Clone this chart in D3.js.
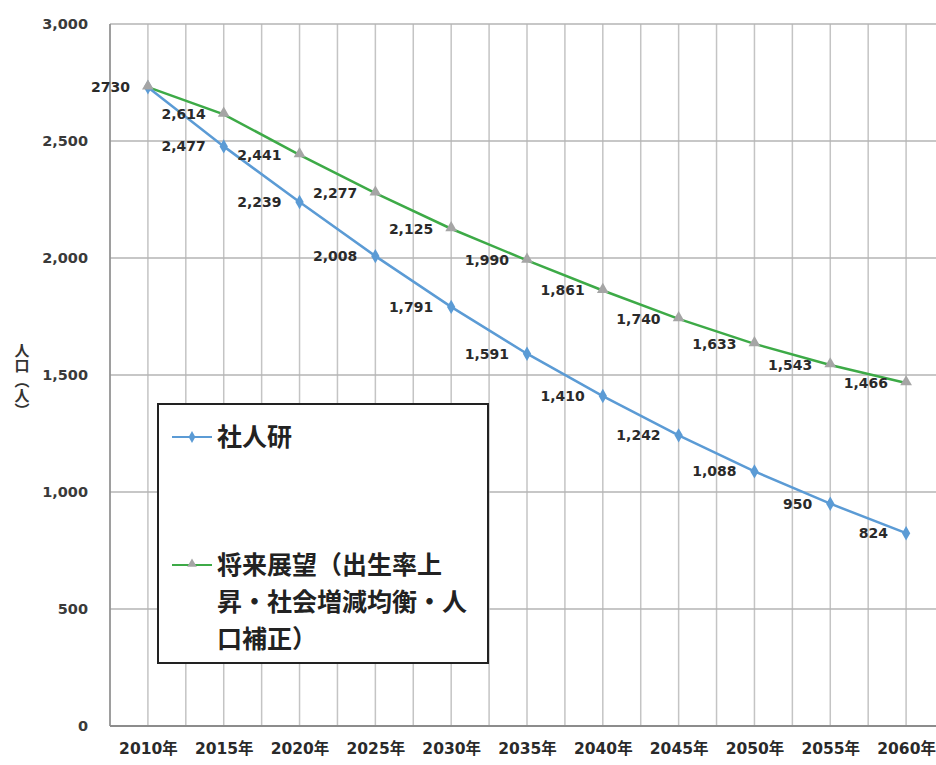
<!DOCTYPE html>
<html>
<head>
<meta charset="utf-8">
<script src="https://cdn.jsdelivr.net/npm/d3@7"></script>
<style>
  body { margin: 0; background: #fff; }
  svg { display: block; font-family: "Noto Sans CJK JP", "Noto Sans", sans-serif; }
</style>
</head>
<body>
<div id="chart"></div>
<script>
// データ
var years = ["2010年", "2015年", "2020年", "2025年", "2030年", "2035年", "2040年", "2045年", "2050年", "2055年", "2060年"];
var shajinken = [2730, 2477, 2239, 2008, 1791, 1591, 1410, 1242, 1088, 950, 824];
var shoraiTenbo = [2730, 2614, 2441, 2277, 2125, 1990, 1861, 1740, 1633, 1543, 1466];
var yTicks = [0, 500, 1000, 1500, 2000, 2500, 3000];

var width = 936, height = 765;
var blue = "#5b9bd5", green = "#3daa47", gray = "#a5a5a5";
var numFont = "'DejaVu Sans', 'Noto Sans CJK JP', sans-serif";

var svg = d3.select("#chart").append("svg")
  .attr("width", width)
  .attr("height", height);

svg.append("rect").attr("width", width).attr("height", height).attr("fill", "#fff");

var x = d3.scalePoint().domain(years).range([110, 944]).padding(0.5);
var y = d3.scaleLinear().domain([0, 3000]).range([726, 24]);
var step = x.step();

// 縦グリッド（中心と境界）
var vLines = [];
years.forEach(function (yr) {
  vLines.push(x(yr) - step / 2);
  vLines.push(x(yr));
});
vLines.push(x(years[years.length - 1]) + step / 2);

svg.append("g").selectAll("line").data(vLines).enter().append("line")
  .attr("x1", d => d).attr("x2", d => d)
  .attr("y1", y(3000)).attr("y2", y(0))
  .attr("stroke", "#c4c4c4").attr("stroke-width", 1.5);

// 横グリッド
svg.append("g").selectAll("line").data(yTicks).enter().append("line")
  .attr("x1", 110).attr("x2", width)
  .attr("y1", d => y(d)).attr("y2", d => y(d))
  .attr("stroke", "#b4b4b4").attr("stroke-width", 1.5);

// 軸線
svg.append("line").attr("x1", 110).attr("x2", 110).attr("y1", y(3000)).attr("y2", y(0))
  .attr("stroke", "#8c8c8c").attr("stroke-width", 1.5);
svg.append("line").attr("x1", 110).attr("x2", width).attr("y1", y(0)).attr("y2", y(0))
  .attr("stroke", "#8c8c8c").attr("stroke-width", 2);

// Y軸ラベル
var yAxis = d3.axisLeft(y).tickValues(yTicks).tickFormat(d3.format(",")).tickSize(0).tickPadding(22);
var gy = svg.append("g").attr("transform", "translate(110,0)").call(yAxis);
gy.select(".domain").remove();
gy.selectAll("text").attr("font-size", "14.5px").attr("font-weight", "bold").attr("fill", "#3a3a3a")
  .attr("font-family", numFont);

// X軸ラベル
var xAxis = d3.axisBottom(x).tickSize(0).tickPadding(17);
var gx = svg.append("g").attr("transform", "translate(0," + y(0) + ")").call(xAxis);
gx.select(".domain").remove();
gx.selectAll("text").attr("font-size", "15.5px").attr("font-weight", "bold").attr("fill", "#2a2a2a")
  .attr("font-family", numFont);

// Y軸タイトル（縦書き）
svg.append("text")
  .attr("x", 22).attr("y", 343)
  .attr("style", "writing-mode: vertical-rl;")
  .attr("font-size", "15px").attr("font-weight", "bold").attr("fill", "#333")
  .text("人口（人）");

var line = d3.line().x((d, i) => x(years[i])).y(d => y(d));

// 将来展望
svg.append("path").datum(shoraiTenbo).attr("d", line)
  .attr("fill", "none").attr("stroke", green).attr("stroke-width", 2.5);

// 社人研
svg.append("path").datum(shajinken).attr("d", line)
  .attr("fill", "none").attr("stroke", blue).attr("stroke-width", 2.5);
svg.append("g").selectAll("path").data(shajinken).enter().append("path")
  .attr("d", d3.symbol().type(d3.symbolDiamond).size(60))
  .attr("transform", (d, i) => "translate(" + x(years[i]) + "," + y(d) + ")")
  .attr("fill", blue);

svg.append("g").selectAll("path").data(shoraiTenbo).enter().append("path")
  .attr("d", d3.symbol().type(d3.symbolTriangle).size(60))
  .attr("transform", (d, i) => "translate(" + x(years[i]) + "," + (y(d) - 1) + ")")
  .attr("fill", gray);

// データラベル
function addLabels(data, skipFirst, fmt) {
  var items = data.map((v, i) => ({ v: v, i: i })).filter(d => !(skipFirst && d.i === 0));
  svg.append("g").selectAll("text").data(items).enter().append("text")
    .attr("x", d => x(years[d.i]) - 18)
    .attr("y", d => y(d.v))
    .attr("dy", "0.35em")
    .attr("text-anchor", "end")
    .attr("font-family", numFont)
    .attr("font-size", "14px").attr("font-weight", "bold").attr("fill", "#2a2a2a")
    .text(d => fmt(d.v, d.i));
}
addLabels(shajinken, false, (v, i) => i === 0 ? String(v) : d3.format(",")(v));
addLabels(shoraiTenbo, true, v => d3.format(",")(v));

// 凡例
var lg = svg.append("g");
lg.append("rect").attr("x", 158).attr("y", 404).attr("width", 330).attr("height", 259)
  .attr("fill", "#fff").attr("stroke", "#222").attr("stroke-width", 2);

lg.append("line").attr("x1", 172).attr("x2", 212).attr("y1", 437).attr("y2", 437)
  .attr("stroke", blue).attr("stroke-width", 2);
lg.append("path").attr("d", d3.symbol().type(d3.symbolDiamond).size(40))
  .attr("transform", "translate(192,437)").attr("fill", blue);
lg.append("text").attr("x", 217).attr("y", 437).attr("dy", "0.35em")
  .attr("font-size", "25px").attr("font-weight", "bold").attr("fill", "#222")
  .text("社人研");

lg.append("line").attr("x1", 172).attr("x2", 212).attr("y1", 565).attr("y2", 565)
  .attr("stroke", green).attr("stroke-width", 2);
lg.append("path").attr("d", d3.symbol().type(d3.symbolTriangle).size(40))
  .attr("transform", "translate(192,564)").attr("fill", gray);
var legendLines = ["将来展望（出生率上", "昇・社会増減均衡・人", "口補正）"];
lg.append("g").selectAll("text").data(legendLines).enter().append("text")
  .attr("x", 217).attr("y", (d, i) => 565 + i * 37).attr("dy", "0.35em")
  .attr("font-size", "25px").attr("font-weight", "bold").attr("fill", "#222")
  .text(d => d);
</script>
</body>
</html>
